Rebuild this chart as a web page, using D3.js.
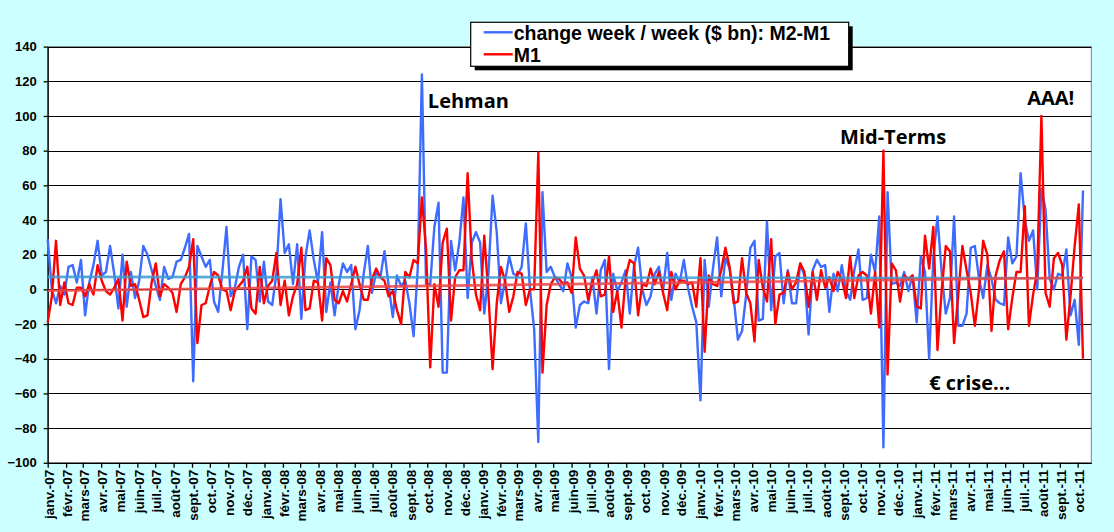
<!DOCTYPE html>
<html>
<head>
<meta charset="utf-8">
<script src="https://cdn.jsdelivr.net/npm/d3@7"></script>
<style>
    body { margin: 0; background: #ccffff; }
    svg { display: block; font-family: Arial, "Liberation Sans", sans-serif; }
    .note { font-family: "Open Sans", sans-serif; font-weight: 700; font-size: 20px; }
</style>
</head>
<body>
<svg class="chart" width="1114" height="532"></svg>
<script>

// weekly changes, first week = 2007-01-01
const firstWeek = '2007-01-01';

const m2m1 = [
    29, 0, -8, 2, -3, 13, 14, 4, 17, -15,
    4, 14, 28, 8, 10, 25, 9, -11, 20, -10,
    10, -5, 5, 25, 20, 11, 2, -6, 13, 6,
    7, 16, 17, 24, 32, -53, 25, 19, 13, 17,
    -7, -13, 10, 36, -4, 1, 13, 20, -23, 19,
    17, -7, 16, -7, -9, 9, 52, 21, 26, 3,
    26, -17, 19, 34, 17, 4, 33, -13, 4, -15,
    3, 15, 10, 14, -23, -12, 9, 25, -2, 10,
    7, 22, 2, -16, 8, 2, 5, -8, -27, 12,
    124, 3, 3, 36, 50, -48, -48, 28, 11, 27,
    53, -5, 27, 33, 27, -14, 9, 54, 33, -8,
    5, 19, 9, 8, 13, 38, 0, -23, -88, 56,
    10, 13, 7, 3, -1, 15, 7, -22, -9, -7,
    -8, 7, -14, 11, 17, -46, 9, -1, 4, 11,
    -14, 13, 24, 0, -9, -4, 9, 13, -1, 21,
    -6, 9, 4, 17, 1, -10, -19, -64, 17, -10,
    12, 30, -4, 18, 12, -5, -29, -24, -3, 24,
    28, -18, -17, 39, -12, 19, 21, -8, 11, -8,
    -8, 15, 8, -26, 11, 17, 13, 14, -13, 9,
    -1, 14, -1, -6, 11, 23, -6, -5, 20, 10,
    42, -91, 56, 3, 4, 2, 10, -1, 8, -19,
    19, 10, -40, 18, 42, 10, -14, -5, 42, -21,
    -21, -14, 24, 25, 6, -5, 14, 6, -6, -8,
    -9, 30, 15, 19, 67, 40, 28, 34, 0, 58,
    46, 6, 0, 9, 8, 23, -15, -6, -32, 57
];

const m1 = [
    -19, -4, 28, -9, 4, -8, -9, 1, 1, -4,
    3, -3, 14, 5, -1, -3, 1, 6, -18, 16,
    2, 3, -6, -16, -15, 4, 15, -4, 3, 1,
    -2, -13, 3, 7, 13, 29, -31, -9, -8, 2,
    10, 8, 0, -1, -12, -1, 2, 5, 13, -11,
    -14, 13, -8, 2, 5, 21, -9, 5, -15, -4,
    3, 24, -12, -11, 5, 4, -18, 18, 14, -6,
    -8, -1, -7, 3, 13, 3, -6, -6, 6, 12,
    7, 5, -4, -1, -12, -20, 10, 7, 17, 15,
    53, 23, -45, 3, -10, 27, 35, -18, 7, 11,
    11, 67, 17, -3, -12, 31, -3, -46, -8, 13,
    5, -13, -4, 10, 9, -9, 0, 0, 79, -48,
    -9, 3, 7, 6, 3, 4, -2, 30, 12, 8,
    -6, 4, 11, -4, -3, 19, -13, -1, -22, 7,
    17, 15, -15, 3, 2, 12, 3, 10, -2, -12,
    10, 0, 5, 5, 3, 4, -10, 18, -36, 8,
    3, 2, 11, 24, 13, -8, -7, 18, -2, -8,
    -30, 17, 1, -7, 29, -20, -3, -2, 10, 0,
    4, 15, 10, -10, 10, -6, 11, 1, 7, -1,
    10, 6, -5, 19, -5, 8, 10, 8, -14, 10,
    -22, 80, -49, 15, 11, -7, 8, 6, 8, -10,
    -11, 31, 12, 36, -35, -1, 25, 22, -31, -3,
    25, 11, -2, -21, 0, 28, 20, -24, 8, 17,
    22, -23, -5, 10, 10, 48, -21, -3, 11, 100,
    -2, -10, 18, 21, 14, -29, -4, 25, 49, -40
];

// linear trend lines, value at first and last week
const trendM2M1 = [7.2, 6.5];
const trendM1 = [-0.8, 6.8];

const yTicks = [-100, -80, -60, -40, -20, 0, 20, 40, 60, 80, 100, 120, 140];

const monthNames = ['janv.', 'févr.', 'mars', 'avr.', 'mai', 'juin', 'juil.', 'août', 'sept.', 'oct.', 'nov.', 'déc.'];

const seriesNames = ['change week / week ($ bn): M2-M1', 'M1'];

const notes = [
    { text: 'Lehman',     date: '2008-10-02', value: 104.5 },
    { text: 'Mid-Terms',  date: '2010-08-27', value: 83.6 },
    { text: 'AAA!',       date: '2011-07-08', value: 106.5 },
    { text: '€ crise...', date: '2011-01-24', value: -57.8 }
];

const colors = {
    m2m1: '#3d6cff',
    m1: '#ff0000',
    trendM2M1: '#3c9bd2',
    trendM1: '#ec4646'
};

const plot = { left: 47.7, right: 1091.3, top: 46.6, bottom: 462.8 };

const parse = d3.utcParse('%Y-%m-%d');
const start = parse(firstWeek);

const weeks = m2m1.map((d, i) => d3.utcDay.offset(start, 7 * i));

const x = d3.scaleUtc()
    .domain([start, parse('2011-10-24')])
    .range([plot.left, plot.right]);

const y = d3.scaleLinear()
    .domain([-100, 140])
    .range([plot.bottom, plot.top]);

const svg = d3.select('svg.chart');

svg.append('rect')
    .attr('x', plot.left)
    .attr('y', plot.top)
    .attr('width', plot.right - plot.left)
    .attr('height', plot.bottom - plot.top)
    .attr('fill', '#fff')
    .attr('stroke', '#808080');

// gridlines
svg.append('g')
    .selectAll('line')
    .data(yTicks)
    .join('line')
    .attr('x1', plot.left)
    .attr('x2', plot.right)
    .attr('y1', d => Math.round(y(d)) + 0.5)
    .attr('y2', d => Math.round(y(d)) + 0.5)
    .attr('stroke', '#000')
    .attr('stroke-width', 1.2);

// axes
const months = d3.utcMonth.range(start, parse('2011-10-02'));

const xAxis = svg.append('g')
    .attr('transform', `translate(0,${plot.bottom})`)
    .call(d3.axisBottom(x)
        .tickValues(months)
        .tickSize(5)
        .tickSizeOuter(0)
        .tickFormat(d => monthNames[d.getUTCMonth()] + '-' + d3.utcFormat('%y')(d)));

xAxis.selectAll('text')
    .attr('transform', 'rotate(-90)')
    .attr('text-anchor', 'end')
    .attr('x', -7)
    .attr('y', 0)
    .attr('dy', '0.42em')
    .attr('font-size', 13.5)
    .attr('font-weight', 'bold')
    .attr('fill', '#000');

const yAxis = svg.append('g')
    .attr('transform', `translate(${plot.left},0)`)
    .call(d3.axisLeft(y)
        .tickValues(yTicks)
        .tickSize(4)
        .tickPadding(7)
        .tickSizeOuter(0));

yAxis.selectAll('text')
    .attr('font-size', 13)
    .attr('font-weight', 'bold')
    .attr('fill', '#000');

svg.selectAll('.domain, .tick line').attr('stroke', '#000').attr('stroke-width', 1.3);

// series
const line = d3.line()
    .x((d, i) => x(weeks[i]))
    .y(d => y(d));

svg.append('path')
    .datum(m2m1)
    .attr('d', line)
    .attr('fill', 'none')
    .attr('stroke', colors.m2m1)
    .attr('stroke-width', 2.4)
    .attr('stroke-linejoin', 'round');

svg.append('path')
    .datum(m1)
    .attr('d', line)
    .attr('fill', 'none')
    .attr('stroke', colors.m1)
    .attr('stroke-width', 2.4)
    .attr('stroke-linejoin', 'round');

// trend lines
const ends = [weeks[0], weeks[weeks.length - 1]];

[[trendM2M1, colors.trendM2M1], [trendM1, colors.trendM1]].forEach(([t, c]) => {
    svg.append('line')
        .attr('x1', x(ends[0]))
        .attr('x2', x(ends[1]))
        .attr('y1', y(t[0]))
        .attr('y2', y(t[1]))
        .attr('stroke', c)
        .attr('stroke-width', 2.6)
        .attr('opacity', 0.85);
});

// notes
svg.append('g')
    .selectAll('text')
    .data(notes)
    .join('text')
    .classed('note', true)
    .attr('x', d => x(parse(d.date)))
    .attr('y', d => y(d.value))
    .text(d => d.text);

// legend
const legend = svg.append('g').attr('transform', 'translate(470.7,22.3)');

legend.append('rect')
    .attr('x', 4).attr('y', 4)
    .attr('width', 378).attr('height', 44)
    .attr('fill', '#000');

legend.append('rect')
    .attr('width', 378).attr('height', 44)
    .attr('fill', '#fff')
    .attr('stroke', '#000')
    .attr('stroke-width', 1.2);

const items = legend.selectAll('g.item')
    .data(seriesNames)
    .join('g')
    .attr('class', 'item')
    .attr('transform', (d, i) => `translate(0,${10 + i * 22})`);

items.append('line')
    .attr('x1', 13).attr('x2', 42)
    .attr('stroke', (d, i) => i ? colors.m1 : colors.m2m1)
    .attr('stroke-width', 2.4);

items.append('text')
    .attr('x', 43)
    .attr('y', 7.5)
    .attr('font-size', 19.5)
    .attr('font-weight', 'bold')
    .text(d => d);

</script>
</body>
</html>
